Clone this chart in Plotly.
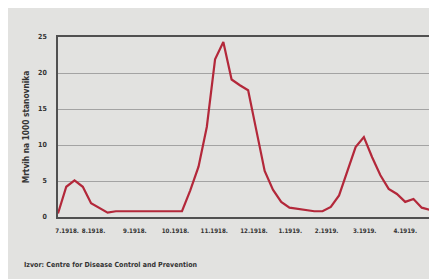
import plotly.graph_objects as go

# Weekly deaths per 1000 inhabitants (June 1918 - May 1919)
weeks = list(range(46))
deaths = [0.5, 4.2, 5.1, 4.2, 1.9, 1.3, 0.6, 0.8, 0.8, 0.8,
          0.8, 0.8, 0.8, 0.8, 0.8, 0.8, 3.7, 7.0, 12.5, 21.9,
          24.3, 19.1, 18.3, 17.6, 12.0, 6.4, 3.8, 2.1, 1.3, 1.1,
          1.0, 0.8, 0.8, 1.4, 3.0, 6.2, 9.7, 11.1, 8.3, 5.8,
          3.9, 3.2, 2.1, 2.5, 1.3, 1.0]

tick_weeks = [1.1, 4.3, 9.3, 14.2, 18.9, 23.7, 28.1, 32.5, 37.1, 42.0]
tick_labels = ["7.1918.", "8.1918.", "9.1918.", "10.1918.", "11.1918.",
               "12.1918.", "1.1919.", "2.1919.", "3.1919.", "4.1919."]
y_ticks = [0, 5, 10, 15, 20, 25]

FONT = "Liberation Sans Narrow, DejaVu Sans Condensed, Arial Narrow, sans-serif"
TXT = "#333333"
BG = "#e2e2e0"

fig = go.Figure()
fig.add_trace(go.Scatter(
    x=weeks, y=deaths, mode="lines",
    line=dict(color="#b3283a", width=2.2),
    hoverinfo="skip", showlegend=False,
))

fig.update_layout(
    width=437, height=279, autosize=False,
    margin=dict(l=50, r=15, t=29, b=70),
    paper_bgcolor=BG,
    plot_bgcolor=BG,
    font=dict(family=FONT, color=TXT, size=7),
    xaxis=dict(
        range=[0, 45], tickmode="array", tickvals=tick_weeks, ticktext=tick_labels,
        tickangle=0,
        showgrid=False, zeroline=False, showline=True, mirror=True,
        linecolor="#505050", linewidth=1.6,
        ticks="outside", ticklen=7, tickcolor="rgba(0,0,0,0)",
        tickfont=dict(size=6.2, color=TXT, family=FONT, weight="bold"),
    ),
    yaxis=dict(
        range=[0, 25], tickmode="array", tickvals=y_ticks,
        showgrid=True, gridcolor="#a3a3a3", gridwidth=1,
        zeroline=False, showline=True, mirror=True,
        linecolor="#505050", linewidth=1.6,
        ticks="outside", ticklen=8, tickcolor="rgba(0,0,0,0)",
        tickfont=dict(size=7, color=TXT, family=FONT, weight="bold"),
        title=dict(text="Mrtvih na 1000 stanovnika", standoff=7,
                   font=dict(size=8.3, color=TXT, family=FONT, weight="bold")),
    ),
    annotations=[
        dict(text="Izvor: Centre for Disease Control and Prevention",
             xref="paper", yref="paper", x=-0.097, y=-0.264,
             xanchor="left", yanchor="middle", showarrow=False,
             font=dict(size=7.0, color=TXT, family=FONT, weight="bold")),
    ],
)

fig.write_html("out.html")
